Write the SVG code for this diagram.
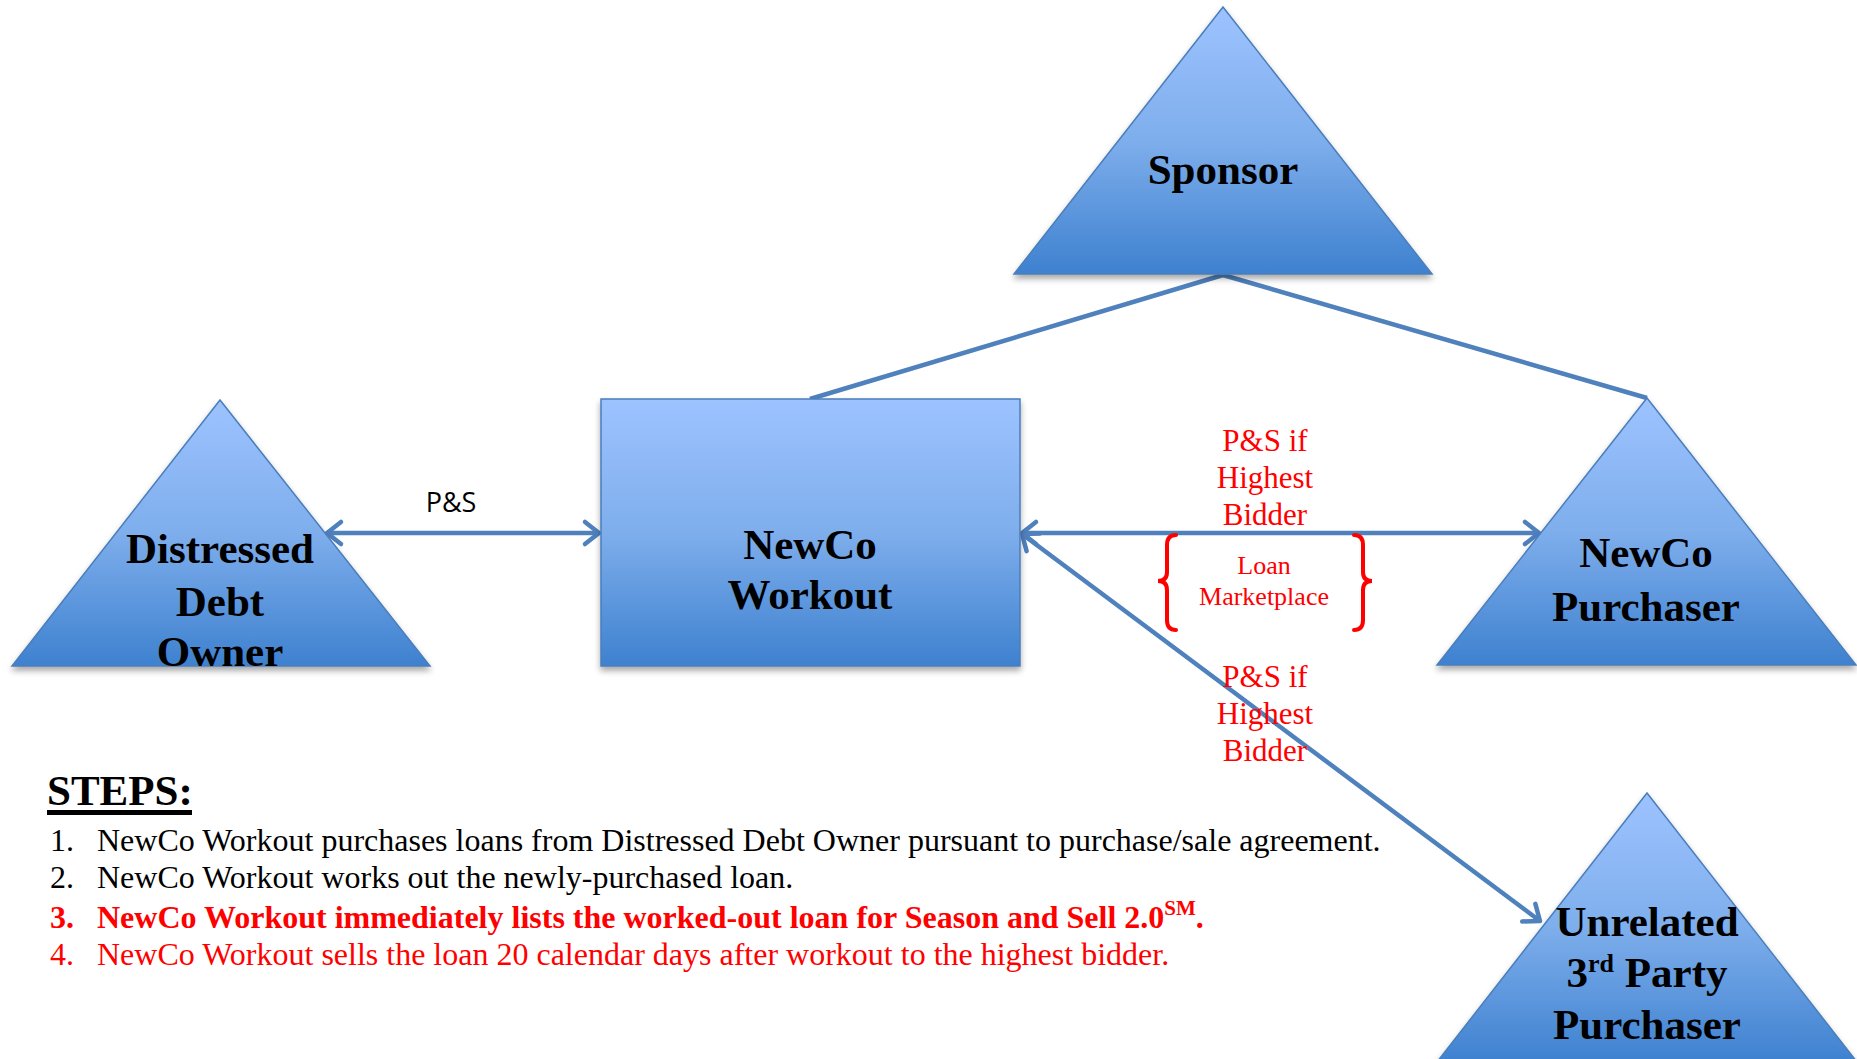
<svg xmlns="http://www.w3.org/2000/svg" width="1857" height="1059" viewBox="0 0 1857 1059">
<style>
.node{fill:url(#g);stroke:#4A7EBB;stroke-width:1.5;filter:url(#sh)}
.nt{font-family:"Liberation Serif",serif;font-weight:bold;font-size:43px;fill:#000;text-anchor:middle}
.con{stroke:#4F81BD;stroke-width:4.5;fill:none}
.red{font-family:"Liberation Serif",serif;fill:#FF0000;text-anchor:middle}
.step{font-family:"Liberation Serif",serif;font-size:32px}
.brace{stroke:#FF0000;stroke-width:4;fill:none;stroke-linecap:round}
</style>
<defs>
<linearGradient id="g" x1="0" y1="0" x2="0" y2="1">
<stop offset="0" stop-color="#9DC3FF"/>
<stop offset="0.5" stop-color="#7EAEEC"/>
<stop offset="1" stop-color="#3E81CF"/>
</linearGradient>
<filter id="sh" x="-10%" y="-10%" width="120%" height="125%">
<feGaussianBlur in="SourceAlpha" stdDeviation="3"/>
<feOffset dx="0" dy="4" result="b"/>
<feComponentTransfer><feFuncA type="linear" slope="0.35"/></feComponentTransfer>
<feMerge><feMergeNode/><feMergeNode in="SourceGraphic"/></feMerge>
</filter>
<marker id="ah" viewBox="-20 -16 26 32" markerWidth="26" markerHeight="32" refX="0" refY="0" orient="auto-start-reverse" markerUnits="userSpaceOnUse">
<path d="M-14,-11 L0,0 L-14,11" fill="none" stroke="#4F81BD" stroke-width="4.5" stroke-linecap="round" stroke-linejoin="round"/>
</marker>
</defs>
<rect width="1857" height="1059" fill="#fff"/>

<g id="connectors">
<line class="con" x1="1223" y1="275" x2="810" y2="399"/>
<line class="con" x1="1223" y1="275" x2="1647" y2="398"/>
<line class="con" x1="327" y1="533" x2="599" y2="533" marker-start="url(#ah)" marker-end="url(#ah)"/>
<line class="con" x1="1022" y1="533" x2="1539" y2="533" marker-start="url(#ah)" marker-end="url(#ah)"/>
<line class="con" x1="1022" y1="534" x2="1540" y2="921" marker-start="url(#ah)" marker-end="url(#ah)"/>
<text x="451" y="512" font-family="'Open Sans',sans-serif" font-size="27" text-anchor="middle" fill="#000">P&amp;S</text>
</g>

<g id="sponsor">
<polygon class="node" points="1223,7 1432,274 1014,274"/>
<text class="nt" x="1223" y="184">Sponsor</text>
</g>

<g id="distressed-debt-owner">
<polygon class="node" points="220,400 430,666 12,666"/>
<text class="nt" x="220" y="563">Distressed</text>
<text class="nt" x="220" y="616">Debt</text>
<text class="nt" x="220" y="666">Owner</text>
</g>

<g id="newco-workout">
<rect class="node" x="601" y="399" width="419" height="267"/>
<text class="nt" x="810" y="559">NewCo</text>
<text class="nt" x="810" y="609">Workout</text>
</g>

<g id="newco-purchaser">
<polygon class="node" points="1647,398 1856,665 1437,665"/>
<text class="nt" x="1646" y="567">NewCo</text>
<text class="nt" x="1646" y="621">Purchaser</text>
</g>

<g id="unrelated-purchaser">
<polygon class="node" points="1647,793 1857,1062 1437,1062"/>
<text class="nt" x="1647" y="936">Unrelated</text>
<text class="nt" x="1647" y="987">3<tspan font-size="26" dy="-15">rd</tspan><tspan dy="15"> Party</tspan></text>
<text class="nt" x="1647" y="1039">Purchaser</text>
</g>

<g id="loan-marketplace">
<text class="red" font-size="31" x="1265" y="451">P&amp;S if</text>
<text class="red" font-size="31" x="1265" y="488">Highest</text>
<text class="red" font-size="31" x="1265" y="525">Bidder</text>
<path class="brace" d="M1176,535 Q1167,535 1167,545 L1167,572 Q1167,581 1158,581 Q1167,581 1167,590 L1167,620 Q1167,630 1176,630"/>
<path class="brace" d="M1354,535 Q1363,535 1363,545 L1363,572 Q1363,581 1372,581 Q1363,581 1363,590 L1363,620 Q1363,630 1354,630"/>
<text class="red" font-size="26" x="1264" y="574">Loan</text>
<text class="red" font-size="26" x="1264" y="605">Marketplace</text>
<text class="red" font-size="31" x="1265" y="687">P&amp;S if</text>
<text class="red" font-size="31" x="1265" y="724">Highest</text>
<text class="red" font-size="31" x="1265" y="761">Bidder</text>
</g>

<g id="steps">
<text x="47" y="805" font-family="'Liberation Serif',serif" font-weight="bold" font-size="43">STEPS:</text>
<rect x="47" y="810" width="145" height="5" fill="#000"/>
<text class="step" x="50" y="851">1.</text>
<text class="step" x="97" y="851">NewCo Workout purchases loans from Distressed Debt Owner pursuant to purchase/sale agreement.</text>
<text class="step" x="50" y="888">2.</text>
<text class="step" x="97" y="888">NewCo Workout works out the newly-purchased loan.</text>
<text class="step" x="50" y="928" fill="#FF0000" font-weight="bold">3.</text>
<text class="step" x="97" y="928" fill="#FF0000" font-weight="bold">NewCo Workout immediately lists the worked-out loan for Season and Sell 2.0<tspan font-size="21" dy="-13">SM</tspan><tspan dy="13">.</tspan></text>
<text class="step" x="50" y="965" fill="#FF0000">4.</text>
<text class="step" x="97" y="965" fill="#FF0000">NewCo Workout sells the loan 20 calendar days after workout to the highest bidder.</text>
</g>
</svg>
